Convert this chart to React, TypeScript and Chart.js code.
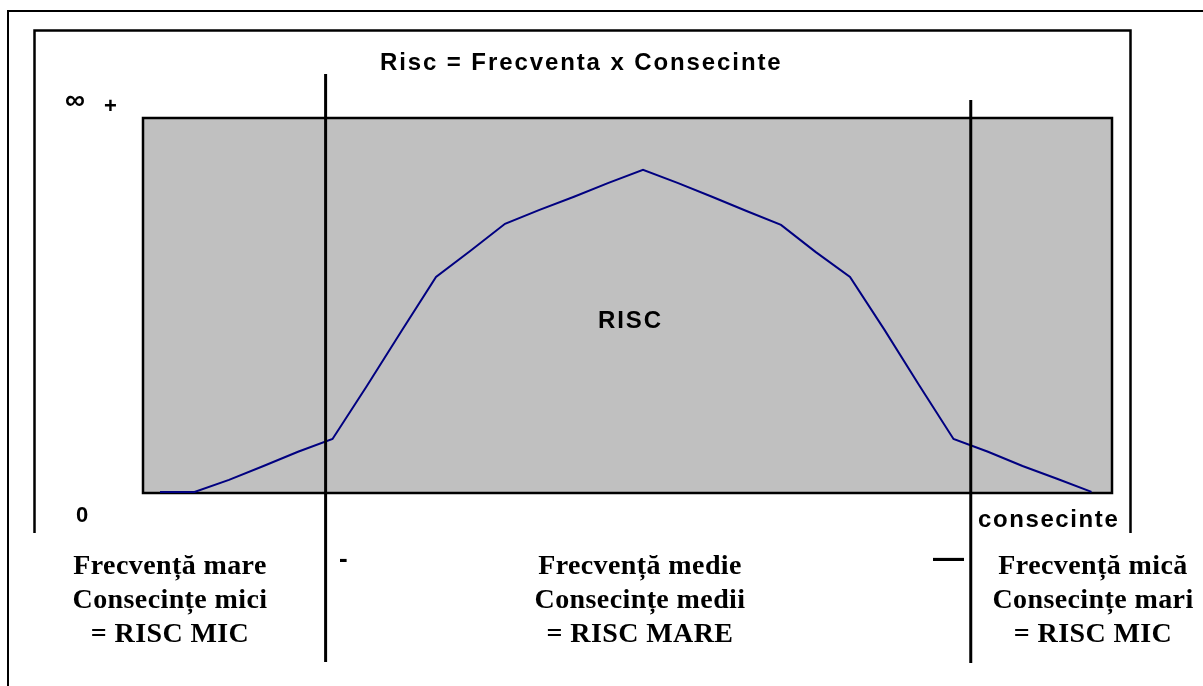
import React, { useEffect, useRef } from "react";
import { Chart, registerables } from "chart.js";

Chart.register(...registerables);

// ---- data ----
const positions = [0, 1, 2, 3, 4, 5, 6, 7, 8, 9, 10, 11, 12, 13, 14, 15, 16, 17, 18, 19, 20, 21, 22, 23, 24, 25, 26, 27];
const riskValues = [0, 0, 3.2, 6.9, 10.7, 14.1, 28.3, 42.9, 57.3, 64.3, 71.5, 75.2, 78.7, 82.4, 85.9, 82.4, 78.7, 74.9, 71.2, 64.0, 57.3, 43.2, 28.5, 14.1, 10.7, 6.9, 3.5, 0];
const dividerPositions = [4.8, 23.5];
const titleText = "Risc = Frecventa x Consecinte";
const areaLabel = "RISC";
const xAxisLabel = "consecinte";
const yTopLabel = ["∞", "+"];
const yZeroLabel = "0";
const regionTexts = [
  ["Frecvență mare", "Consecințe mici", "= RISC MIC"],
  ["Frecvență medie", "Consecințe medii", "= RISC MARE"],
  ["Frecvență mică", "Consecințe mari", "= RISC MIC"],
];

const SANS = "'Liberation Sans', Arial, sans-serif";
const SERIF = "'Liberation Serif', 'Times New Roman', serif";

const overlayPlugin = {
  id: "overlay",
  beforeDatasetsDraw(chart: any) {
    const { ctx, chartArea } = chart;
    const { left, top, right, bottom } = chartArea;
    ctx.save();
    ctx.fillStyle = "#c0c0c0";
    ctx.fillRect(left, top, right - left, bottom - top);
    ctx.strokeStyle = "#000";
    ctx.lineWidth = 2.5;
    ctx.strokeRect(left, top, right - left, bottom - top);
    ctx.restore();
  },
  afterDatasetsDraw(chart: any) {
    const { ctx } = chart;
    const xScale = chart.scales.x;
    ctx.save();
    ctx.strokeStyle = "#000";
    ctx.lineCap = "butt";

    // outer frame (left + top)
    ctx.lineWidth = 2;
    ctx.beginPath();
    ctx.moveTo(8, 686);
    ctx.lineTo(8, 11);
    ctx.lineTo(1203, 11);
    ctx.stroke();

    // inner frame (open at the bottom)
    ctx.lineWidth = 2.5;
    ctx.beginPath();
    ctx.moveTo(34.5, 533);
    ctx.lineTo(34.5, 30.5);
    ctx.lineTo(1130.5, 30.5);
    ctx.lineTo(1130.5, 533);
    ctx.stroke();

    // divider lines
    ctx.lineWidth = 3;
    const tops = [74, 100];
    const bottoms = [662, 663];
    dividerPositions.forEach((v, i) => {
      const px = xScale.getPixelForValue(v);
      ctx.beginPath();
      ctx.moveTo(px, tops[i]);
      ctx.lineTo(px, bottoms[i]);
      ctx.stroke();
    });

    // texts
    ctx.fillStyle = "#000";
    ctx.textBaseline = "alphabetic";
    (ctx as any).letterSpacing = "1.9px";
    ctx.font = `bold 24px ${SANS}`;
    ctx.textAlign = "left";
    ctx.fillText(titleText, 380, 70);
    ctx.fillText(areaLabel, 598, 328);
    (ctx as any).letterSpacing = "1.6px";
    ctx.fillText(xAxisLabel, 978, 527);

    (ctx as any).letterSpacing = "0px";
    ctx.font = `bold 22px ${SANS}`;
    ctx.fillText(yZeroLabel, 76, 522);
    ctx.font = `bold 28px ${SANS}`;
    ctx.fillText(yTopLabel[0], 65, 109);
    ctx.font = `bold 22px ${SANS}`;
    ctx.fillText(yTopLabel[1], 104, 113);

    ctx.font = `bold 26px ${SANS}`;
    ctx.fillText("-", 339, 567);
    ctx.font = `bold 31px ${SANS}`;
    ctx.fillText("—", 933, 568);

    ctx.font = `bold 28px ${SERIF}`;
    ctx.textAlign = "center";
    (ctx as any).letterSpacing = "0.4px";
    const centers = [170, 640, 1093];
    const baselines = [574, 608, 642];
    regionTexts.forEach((lines, i) => {
      lines.forEach((t, j) => {
        ctx.fillText(t, centers[i], baselines[j]);
      });
    });
    ctx.restore();
  },
};

export default function App() {
  const ref = useRef<HTMLCanvasElement | null>(null);
  useEffect(() => {
    if (!ref.current) return;
    const chart = new Chart(ref.current, {
      type: "line",
      data: {
        datasets: [
          {
            data: positions.map((p, i) => ({ x: p, y: riskValues[i] })),
            borderColor: "#000080",
            borderWidth: 2,
            pointRadius: 0,
            tension: 0,
            fill: false,
          },
        ],
      },
      options: {
        animation: false,
        responsive: false,
        devicePixelRatio: 1,
        layout: { padding: { left: 143, top: 118, right: 91, bottom: 193 } },
        plugins: { legend: { display: false }, title: { display: false }, tooltip: { enabled: false } },
        scales: {
          x: { type: "linear", min: -0.493, max: 27.594, display: false },
          y: { type: "linear", min: -0.3, max: 99.7, display: false },
        },
      },
      plugins: [overlayPlugin],
    });
    return () => chart.destroy();
  }, []);
  return (
    <div style={{ position: "absolute", left: 0, top: 0, width: 1203, height: 686, background: "#fff" }}>
      <canvas ref={ref} width={1203} height={686} style={{ display: "block" }} />
    </div>
  );
}
